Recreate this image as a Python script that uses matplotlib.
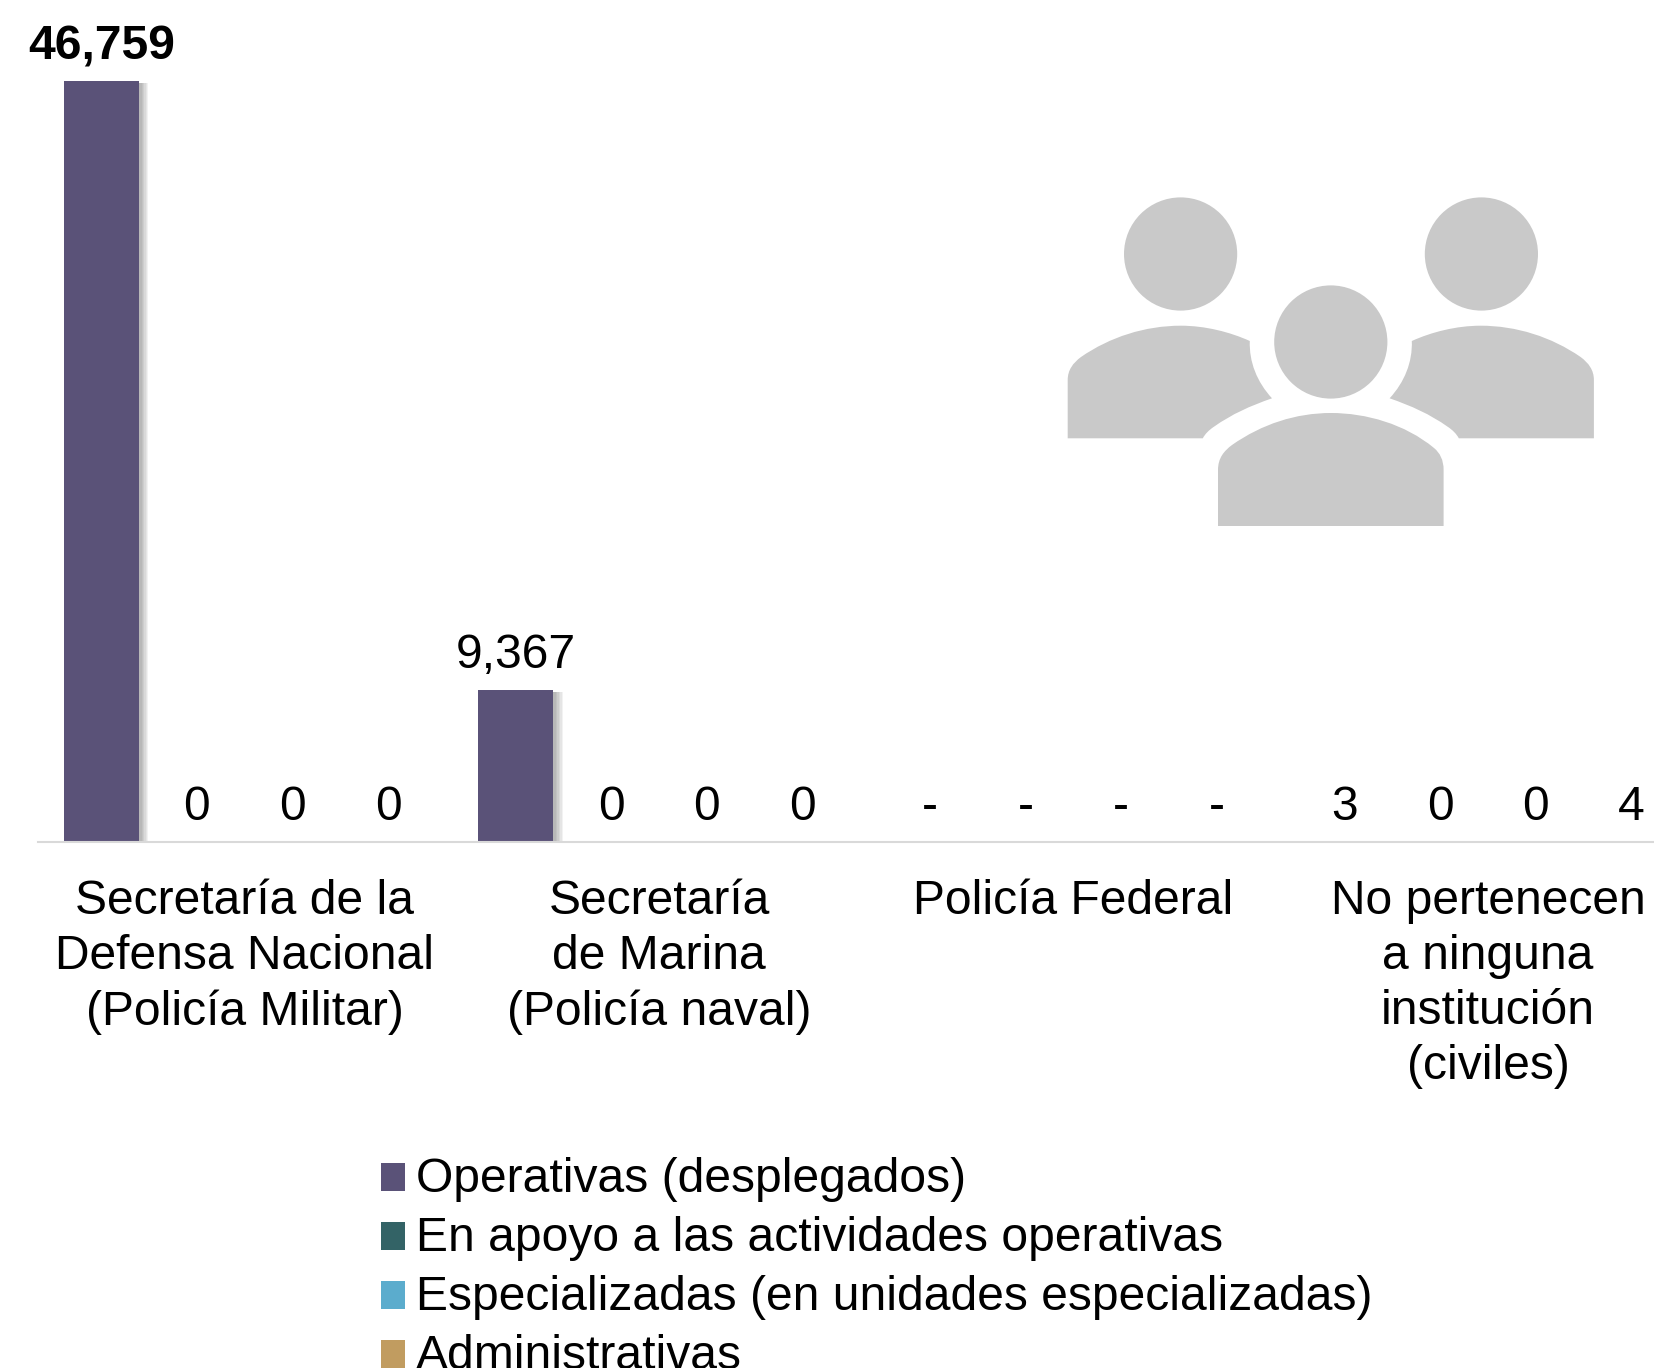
import numpy as np
import matplotlib
matplotlib.use('Agg')
import matplotlib.pyplot as plt
import matplotlib.patheffects as pe
from matplotlib.patches import Circle, PathPatch, Patch, Rectangle
from matplotlib.legend_handler import HandlerPatch
from matplotlib.path import Path

plt.rcParams['font.family'] = ['Liberation Sans', 'DejaVu Sans']

categories = ['Secretaría de la\nDefensa Nacional\n(Policía Militar)',
              'Secretaría\nde Marina\n(Policía naval)',
              'Policía Federal',
              'No pertenecen\na ninguna\ninstitución\n(civiles)']
series_names = ['Operativas (desplegados)',
                'En apoyo a las actividades operativas',
                'Especializadas (en unidades especializadas)',
                'Administrativas']
operativas = [46759, 9367, np.nan, 3]
en_apoyo = [0, 0, np.nan, 0]
especializadas = [0, 0, np.nan, 0]
administrativas = [0, 0, np.nan, 4]
colors = ['#5A5278', '#336366', '#5BACCD', '#C19C60']

W, H = 1654, 1368
FS = 34.6
fig = plt.figure(figsize=(W / 100, H / 100), dpi=100)

# axes spans from the left end of the baseline to the image edge
base_y = 842
ax = fig.add_axes([38 / W, 1 - base_y / H, 1 - 38 / W, base_y / H])
ax.set_xlim(-0.4985, 3.4005)
ax.set_ylim(0, 46759 * base_y / 761)

step = 0.2306
# layered offsets to fake the soft office-style shadow
shadow = [pe.SimplePatchShadow(offset=(d, -1.5), shadow_rgbFace='#000000', alpha=0.05)
          for d in (7, 6, 5, 4, 3, 2)] + [pe.Normal()]

x = np.arange(len(categories))
all_series = [operativas, en_apoyo, especializadas, administrativas]
for j, vals in enumerate(all_series):
    pos = x + (j - 1.5) * step
    bars = ax.bar(pos, vals, width=0.181, color=colors[j], linewidth=0)
    for b in bars:
        b.set_path_effects(shadow)
    for p, v in zip(pos, vals):
        top = 0 if np.isnan(v) else v
        txt = '-' if np.isnan(v) else f'{v:,.0f}'
        big = v == max(operativas[:2])
        ax.annotate(txt, (p, top), xytext=(0, 24.8), textcoords='offset points',
                    ha='center', va='center', fontsize=FS,
                    fontweight='bold' if big else 'normal', color='black',
                    annotation_clip=False)

for s in ['top', 'right', 'left']:
    ax.spines[s].set_visible(False)
ax.spines['bottom'].set_color('#D9D9D9')
ax.spines['bottom'].set_linewidth(1.5)
ax.set_yticks([])
ax.set_xticks(x)
ax.set_xticklabels(categories, fontsize=FS, linespacing=1.284, color='black')
ax.tick_params(axis='x', length=0, pad=26.7)

# people icon, drawn in image pixels
ov = fig.add_axes([0, 0, 1, 1], facecolor='none')
ov.set_xlim(0, W)
ov.set_ylim(H, 0)
ov.axis('off')
icon_color = '#C9C9C9'
head_r = 56.6
for cx, cy in [(1180.6, 254), (1481.4, 254), (1330.8, 342)]:
    ov.add_patch(Circle((cx, cy), head_r, fc=icon_color, ec='none'))

M, L, C, Z = Path.MOVETO, Path.LINETO, Path.CURVE4, Path.CLOSEPOLY

def body_center():
    v = [(1218, 526), (1218, 470), (1218, 458), (1224, 451), (1232, 445),
         (1262, 424), (1296, 413), (1331, 413), (1366, 413), (1405, 424),
         (1434, 448), (1440, 453), (1443.6, 460), (1443.6, 470), (1443.6, 526), (1218, 526)]
    c = [M, L, C, C, C, C, C, C, C, C, C, C, C, C, L, Z]
    return Path(v, c)

def body_side(mirror=False):
    v = [(1067.7, 438.3), (1067.7, 380), (1067.7, 370), (1073, 363), (1081, 357),
         (1110, 337), (1145, 325.7), (1181, 325.7), (1205, 325.7), (1230, 332),
         (1249.8, 341), (1249, 362), (1257, 382), (1272, 398.3),
         (1250, 406), (1232, 414), (1214, 426.7), (1209, 430), (1205, 434), (1202.8, 438.3),
         (1067.7, 438.3)]
    c = [M, L, C, C, C, C, C, C, C, C, C, C, C, C, C, C, C, C, C, L, Z]
    if mirror:
        v = [(2661.6 - a, b) for a, b in v]
    return Path(v, c)

for path in [body_center(), body_side(), body_side(True)]:
    ov.add_patch(PathPatch(path, fc=icon_color, ec='none'))

def low_square(legend, orig_handle, xdescent, ydescent, width, height, fontsize):
    return Rectangle((-xdescent, -ydescent - 1.9), width, height)

handles = [Patch(fc=c, ec='none') for c in colors]
fig.legend(handles, series_names, loc='upper left',
           bbox_to_anchor=(381 / W, 1 - 1156.5 / H), borderaxespad=0, borderpad=0,
           frameon=False, fontsize=FS, handlelength=0.5, handleheight=0.5,
           handletextpad=0.23, labelspacing=0.292, labelcolor='black',
           handler_map={Patch: HandlerPatch(patch_func=low_square)})

fig.savefig('out.png', dpi=100)
